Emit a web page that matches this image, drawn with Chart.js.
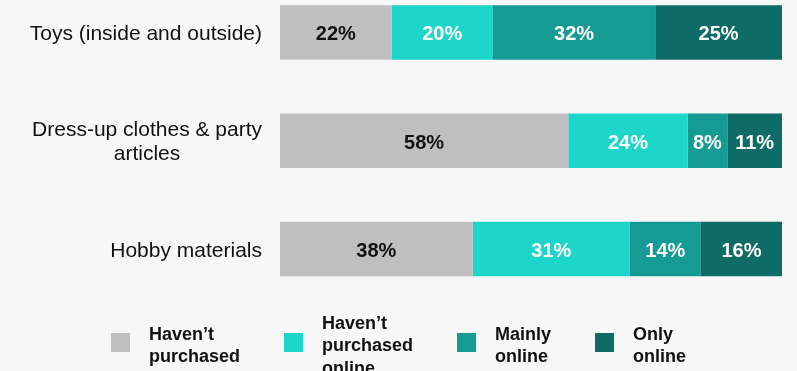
<!DOCTYPE html>
<html>
<head>
<meta charset="utf-8">
<script src="https://cdn.jsdelivr.net/npm/chart.js@4/dist/chart.umd.min.js"></script>
<style>
  html, body { margin: 0; padding: 0; background: #f7f7f7; }
  canvas { display: block; }
</style>
</head>
<body>
<canvas id="purchaseChart" width="797" height="371"></canvas>
<script>
// categories (multi-line labels) and series names
const categories = [
    ['Toys (inside and outside)'],
    ['Dress-up clothes & party', 'articles'],
    ['Hobby materials']
];
const seriesNames = [
    ['Haven\u2019t', 'purchased'],
    ['Haven\u2019t', 'purchased', 'online'],
    ['Mainly', 'online'],
    ['Only', 'online']
];

// shares in % as printed on the bars
const havenTPurchased = [22, 58, 38];
const havenTPurchasedOnline = [20, 24, 31];
const mainlyOnline = [32, 8, 14];
const onlyOnline = [25, 11, 16];

const seriesValues = [havenTPurchased, havenTPurchasedOnline, mainlyOnline, onlyOnline];
const seriesColors = ['#bfbfbf', '#1dd5c9', '#159b94', '#0e6b65'];
const labelColors = ['#111111', '#ffffff', '#ffffff', '#ffffff'];

const FONT = '"Liberation Sans", Arial, Helvetica, sans-serif';

// every bar is drawn as 100% of its row
const rowTotals = categories.map((c, i) => seriesValues.reduce((s, arr) => s + arr[i], 0));

const datasets = seriesValues.map((vals, k) => ({
    label: seriesNames[k].join(' '),
    data: vals.map((v, i) => v / rowTotals[i] * 100),
    raw: vals,
    backgroundColor: seriesColors[k],
    borderWidth: 0,
    barPercentage: 0.505,
    categoryPercentage: 1.0,
    clip: false
}));

// value labels inside the segments
const barLabels = {
    id: 'barLabels',
    afterDatasetsDraw(chart) {
        const ctx = chart.ctx;
        ctx.save();
        ctx.font = 'bold 20px ' + FONT;
        ctx.textAlign = 'center';
        ctx.textBaseline = 'alphabetic';
        chart.data.datasets.forEach((ds, k) => {
            const meta = chart.getDatasetMeta(k);
            meta.data.forEach((bar, i) => {
                ctx.fillStyle = labelColors[k];
                ctx.fillText(ds.raw[i] + '%', (bar.x + bar.base) / 2, bar.y + 7.8);
            });
        });
        ctx.restore();
    }
};

// category labels: block right aligned, lines centred on each other
const categoryLabels = {
    id: 'categoryLabels',
    afterDraw(chart) {
        const ctx = chart.ctx;
        const yScale = chart.scales.y;
        const right = 262;
        const lineH = 24;
        ctx.save();
        ctx.font = '21px ' + FONT;
        ctx.fillStyle = '#111111';
        ctx.textAlign = 'center';
        ctx.textBaseline = 'alphabetic';
        categories.forEach((lines, i) => {
            const cy = yScale.getPixelForValue(i);
            const w = Math.max(...lines.map(l => ctx.measureText(l).width));
            const cx = right - w / 2;
            lines.forEach((l, j) => {
                const y = cy + 7.5 + (j - (lines.length - 1) / 2) * lineH;
                ctx.fillText(l, cx, y);
            });
        });
        ctx.restore();
    }
};

// legend row at the bottom
const bottomLegend = {
    id: 'bottomLegend',
    afterDraw(chart) {
        const ctx = chart.ctx;
        const box = 19, gapText = 19, gapItem = 44, lineH = 22.5;
        ctx.save();
        ctx.font = 'bold 18px ' + FONT;
        ctx.textAlign = 'left';
        ctx.textBaseline = 'alphabetic';
        const widths = seriesNames.map(lines => Math.max(...lines.map(l => ctx.measureText(l).width)));
        const total = widths.reduce((a, w) => a + box + gapText + w, 0) + gapItem * (widths.length - 1);
        let x = (chart.width - total) / 2;
        seriesNames.forEach((lines, k) => {
            ctx.fillStyle = seriesColors[k];
            ctx.fillRect(x, 333, box, box);
            ctx.fillStyle = '#111111';
            lines.forEach((l, j) => {
                ctx.fillText(l, x + box + gapText, 351.2 + (j - (lines.length - 1) / 2) * lineH);
            });
            x += box + gapText + widths[k] + gapItem;
        });
        ctx.restore();
    }
};

new Chart(document.getElementById('purchaseChart'), {
    type: 'bar',
    data: { labels: categories, datasets: datasets },
    options: {
        indexAxis: 'y',
        responsive: false,
        animation: false,
        layout: { padding: { top: 32.5, bottom: 122, left: 0, right: 15 } },
        plugins: {
            legend: { display: false },
            tooltip: { enabled: false }
        },
        scales: {
            x: {
                stacked: true,
                min: 0,
                max: 100,
                display: false
            },
            y: {
                stacked: true,
                offset: false,
                grid: { display: false, drawTicks: false },
                border: { display: false },
                ticks: { display: false },
                afterFit(scale) { scale.width = 280; }
            }
        }
    },
    plugins: [barLabels, categoryLabels, bottomLegend]
});
</script>
</body>
</html>
